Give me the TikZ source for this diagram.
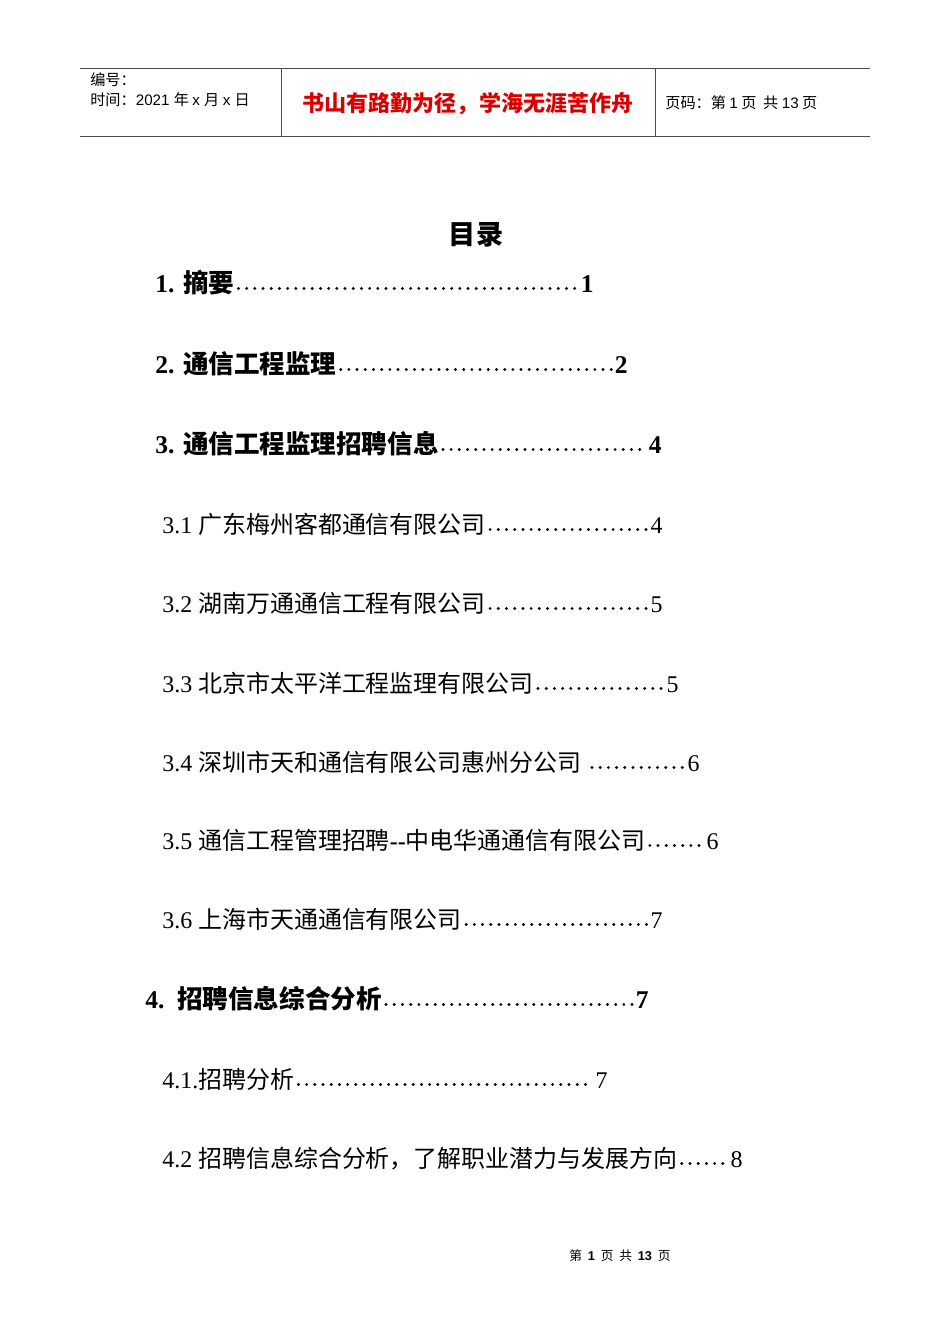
\documentclass[tikz,border=0pt]{standalone}
\usepackage{fontspec}
\setmainfont{Liberation Serif}
\newfontfamily\cjk{Noto Sans CJK SC}
\newfontfamily\hdfont{Liberation Sans}
\usetikzlibrary{positioning}
\newdimen\px \px=0.626pt
\tikzset{
  entry/.style={anchor=base west,inner sep=0pt},
  pagenum/.style={anchor=base east,inner sep=0pt},
  mainentry/.style={entry,font=\fontsize{16}{18}\selectfont\bfseries},
  subentry/.style={entry,font=\fontsize{15}{17}\selectfont},
  leaderdots/.style={line width=3.2\px,line cap=round,dash pattern=on 0pt off 8.2\px},
  rule/.style={line width=0.6pt,black!70}
}
\begin{document}
\begin{tikzpicture}[x=1\px,y=-1\px]
\useasboundingbox (0,0) rectangle (950,1344);

% header
\draw[rule] (80,68) -- (870,68);
\draw[rule] (80,136) -- (870,136);
\draw[rule] (281,68) -- (281,136);
\draw[rule] (655,68) -- (655,136);
\node[entry,font=\fontsize{9.5}{11}\selectfont] (num) at (90,85) {\cjk 编号：};
\node[entry,font=\fontsize{9.5}{11}\selectfont] (date) at (90,105) {\cjk 时间：\hdfont 2021 \cjk 年 \hdfont x \cjk 月 \hdfont x \cjk 日};
\node[anchor=base,inner sep=0pt,font=\fontsize{13.8}{16}\selectfont\bfseries,text=red!85!black] (motto) at (468,111) {\cjk 书山有路勤为径，学海无涯苦作舟};
\node[entry,font=\fontsize{9.5}{11}\selectfont] (pg) at (665,108) {\cjk 页码：第 {\hdfont 1} 页 \ 共 {\hdfont 13} 页};

% title
\node[anchor=base,inner sep=0pt,font=\fontsize{17}{20}\selectfont\bfseries] (title) at (476,244) {\cjk 目录};

% main entries
\node[mainentry] (t1) at (155,292) {1. {\cjk 摘要}};
\node[pagenum,font=\fontsize{16}{18}\selectfont\bfseries] (p1) at (594,292) {1};
\node[mainentry] (t2) at (155,373) {2. {\cjk 通信工程监理}};
\node[pagenum,font=\fontsize{16}{18}\selectfont\bfseries] (p2) at (628,373) {2};
\node[mainentry] (t3) at (155,453) {3. {\cjk 通信工程监理招聘信息}};
\node[pagenum,font=\fontsize{16}{18}\selectfont\bfseries] (p3) at (662,453) {4};
\node[mainentry] (t4) at (145,1008) {4.\ \ {\cjk 招聘信息综合分析}};
\node[pagenum,font=\fontsize{16}{18}\selectfont\bfseries] (p4) at (649,1008) {7};

% sub entries
\node[subentry] (t31) at (162,533) {3.1 {\cjk 广东梅州客都通信有限公司}};
\node[pagenum,font=\fontsize{15}{17}\selectfont] (p31) at (663,533) {4};
\node[subentry] (t32) at (162,612) {3.2 {\cjk 湖南万通通信工程有限公司}};
\node[pagenum,font=\fontsize{15}{17}\selectfont] (p32) at (663,612) {5};
\node[subentry] (t33) at (162,692) {3.3 {\cjk 北京市太平洋工程监理有限公司}};
\node[pagenum,font=\fontsize{15}{17}\selectfont] (p33) at (679,692) {5};
\node[subentry] (t34) at (162,771) {3.4 {\cjk 深圳市天和通信有限公司惠州分公司}\ \ };
\node[pagenum,font=\fontsize{15}{17}\selectfont] (p34) at (700,771) {6};
\node[subentry] (t35) at (162,849) {3.5 {\cjk 通信工程管理招聘}\textbf{-{}-}{\cjk 中电华通通信有限公司}};
\node[pagenum,font=\fontsize{15}{17}\selectfont] (p35) at (719,849) {6};
\node[subentry] (t36) at (162,928) {3.6 {\cjk 上海市天通通信有限公司}};
\node[pagenum,font=\fontsize{15}{17}\selectfont] (p36) at (663,928) {7};
\node[subentry] (t41) at (162,1088) {4.1.{\cjk 招聘分析}};
\node[pagenum,font=\fontsize{15}{17}\selectfont] (p41) at (608,1088) {7};
\node[subentry] (t42) at (162,1167) {4.2 {\cjk 招聘信息综合分析，了解职业潜力与发展方向}};
\node[pagenum,font=\fontsize{15}{17}\selectfont] (p42) at (743,1167) {8};

% leaders
\foreach \e in {1,2,3,4,31,32,33,34,35,36,41,42}
  \draw[leaderdots] ([xshift=4\px,yshift=2.2pt]t\e.base east) -- ([xshift=-3\px,yshift=2.2pt]p\e.base west);

% footer
\node[anchor=base,inner sep=0pt,font=\fontsize{8}{9}\selectfont] (foot) at (620,1260) {\cjk 第 \ {\hdfont\bfseries 1} \ 页 \ 共 \ {\hdfont\bfseries 13} \ 页};
\end{tikzpicture}
\end{document}
